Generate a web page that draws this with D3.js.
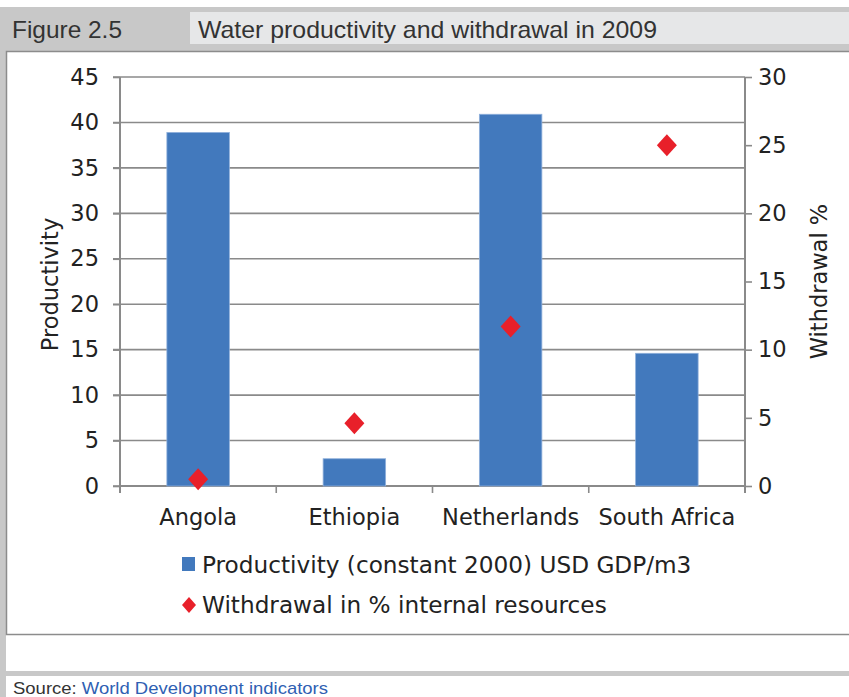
<!DOCTYPE html>
<html>
<head>
<meta charset="utf-8">
<script src="https://cdn.jsdelivr.net/npm/d3@7"></script>
<style>
  html, body { margin: 0; padding: 0; background: #fff; }
  svg { display: block; }
</style>
</head>
<body>
<svg id="chart" width="849" height="697"></svg>
<script>
// Water productivity (bars, left axis) and withdrawal share (diamonds, right axis)
const countries = ["Angola", "Ethiopia", "Netherlands", "South Africa"];
const productivity = [38.9, 3.0, 40.9, 14.6];
const withdrawal = [0.5, 4.6, 11.7, 25.0];
const leftTicks = [0, 5, 10, 15, 20, 25, 30, 35, 40, 45];
const rightTicks = [0, 5, 10, 15, 20, 25, 30];
const legendLabels = ["Productivity (constant 2000) USD GDP/m3", "Withdrawal in % internal resources"];

const svg = d3.select("#chart");
const axisFont = "Verdana, 'DejaVu Sans', sans-serif";
const headFont = "'Liberation Sans Narrow', 'Arial Narrow', 'Liberation Sans', sans-serif";
const gridColor = "#8a8a8a";
const barColor = "#4279bd";
const markColor = "#e8202a";
const fs = 22.5;

// Page frame: grey header strip, title box, white chart panel, footer band
svg.append("rect").attr("x", 0).attr("y", 7).attr("width", 849).attr("height", 44).attr("fill", "#c8c8c8");
svg.append("rect").attr("x", 190).attr("y", 12).attr("width", 659).attr("height", 32).attr("fill", "#e6e7e8");
svg.append("rect").attr("x", 0).attr("y", 7).attr("width", 6).attr("height", 690).attr("fill", "#c8c8c8");
svg.append("rect").attr("x", 0).attr("y", 671).attr("width", 849).attr("height", 5).attr("fill", "#c8c8c8");
svg.append("rect").attr("x", 6.5).attr("y", 51.5).attr("width", 850).attr("height", 583)
  .attr("fill", "#fff").attr("stroke", "#8c8c8c").attr("stroke-width", 1.5);

svg.append("text").attr("x", 12).attr("y", 38).text("Figure 2.5")
  .attr("font-family", headFont).attr("font-size", 24).attr("fill", "#333")
  .attr("textLength", 110).attr("lengthAdjust", "spacingAndGlyphs");
svg.append("text").attr("x", 198).attr("y", 38).text("Water productivity and withdrawal in 2009")
  .attr("font-family", headFont).attr("font-size", 24).attr("fill", "#333")
  .attr("textLength", 459).attr("lengthAdjust", "spacingAndGlyphs");

const src = svg.append("text").attr("x", 13).attr("y", 694)
  .attr("font-family", headFont).attr("font-size", 17)
  .attr("textLength", 315).attr("lengthAdjust", "spacingAndGlyphs");
src.append("tspan").attr("fill", "#333").text("Source: ");
src.append("tspan").attr("fill", "#2f5fb3").text("World Development indicators");

// Plot geometry
const x0 = 120, x1 = 745, yTop = 77, yBot = 486;
const x = d3.scaleBand().domain(countries).range([x0, x1]).paddingInner(0).paddingOuter(0);
const yL = d3.scaleLinear().domain([0, 45]).range([yBot, yTop]);
const yR = d3.scaleLinear().domain([0, 30]).range([yBot, yTop]);

// Horizontal gridlines
svg.append("g").selectAll("line").data(leftTicks).join("line")
  .attr("x1", x0 - 7).attr("x2", x1)
  .attr("y1", d => yL(d)).attr("y2", d => yL(d))
  .attr("stroke", gridColor).attr("stroke-width", 1.6);

// Left axis
const gL = svg.append("g").attr("transform", `translate(${x0},0)`)
  .call(d3.axisLeft(yL).tickValues(leftTicks).tickSize(7).tickPadding(14));
gL.select(".domain").remove();
gL.selectAll(".tick line").attr("stroke", gridColor).attr("stroke-width", 1.6);
gL.selectAll(".tick text").attr("font-family", axisFont).attr("font-size", fs).attr("fill", "#222");
svg.append("line").attr("x1", x0).attr("x2", x0).attr("y1", yTop).attr("y2", yBot + 7)
  .attr("stroke", gridColor).attr("stroke-width", 2);

// Right axis
const gR = svg.append("g").attr("transform", `translate(${x1},0)`)
  .call(d3.axisRight(yR).tickValues(rightTicks).tickSize(7).tickPadding(6));
gR.select(".domain").remove();
gR.selectAll(".tick line").attr("stroke", gridColor).attr("stroke-width", 1.6);
gR.selectAll(".tick text").attr("font-family", axisFont).attr("font-size", fs).attr("fill", "#222");
svg.append("line").attr("x1", x1).attr("x2", x1).attr("y1", yTop).attr("y2", yBot + 7)
  .attr("stroke", gridColor).attr("stroke-width", 2);

// Category axis with ticks on band boundaries
const bounds = countries.map(c => x(c)).concat([x1]);
svg.append("line").attr("x1", x0).attr("x2", x1).attr("y1", yBot).attr("y2", yBot)
  .attr("stroke", gridColor).attr("stroke-width", 2);
svg.append("g").selectAll("line").data(bounds).join("line")
  .attr("x1", d => d).attr("x2", d => d).attr("y1", yBot).attr("y2", yBot + 7)
  .attr("stroke", gridColor).attr("stroke-width", 1.6);
svg.append("g").selectAll("text").data(countries).join("text")
  .attr("x", d => x(d) + x.bandwidth() / 2).attr("y", 525)
  .attr("text-anchor", "middle").attr("font-family", axisFont).attr("font-size", fs).attr("fill", "#222")
  .text(d => d);

// Bars
const barW = x.bandwidth() * 0.4;
svg.append("g").selectAll("rect").data(countries).join("rect")
  .attr("x", d => x(d) + (x.bandwidth() - barW) / 2)
  .attr("width", barW)
  .attr("y", (d, i) => yL(productivity[i]))
  .attr("height", (d, i) => yBot - yL(productivity[i]))
  .attr("fill", barColor).attr("stroke", "#8fb0db").attr("stroke-width", 0.8);

// Withdrawal diamonds
const diamond = (cx, cy, w, h) => `M${cx},${cy - h / 2}L${cx + w / 2},${cy}L${cx},${cy + h / 2}L${cx - w / 2},${cy}Z`;
svg.append("g").selectAll("path").data(countries).join("path")
  .attr("d", (d, i) => diamond(x(d) + x.bandwidth() / 2, yR(withdrawal[i]), 20, 22))
  .attr("fill", markColor);

// Axis titles
svg.append("text").attr("transform", `translate(58,${(yTop + yBot) / 2 + 3}) rotate(-90)`)
  .attr("text-anchor", "middle").attr("font-family", axisFont).attr("font-size", fs).attr("fill", "#222")
  .text("Productivity");
svg.append("text").attr("transform", `translate(827,${(yTop + yBot) / 2}) rotate(-90)`)
  .attr("text-anchor", "middle").attr("font-family", axisFont).attr("font-size", fs).attr("fill", "#222")
  .text("Withdrawal %");

// Legend
const lfs = 23.2;
const lg = svg.append("g");
lg.append("rect").attr("x", 182).attr("y", 557).attr("width", 13).attr("height", 14).attr("fill", barColor);
lg.append("text").attr("x", 202).attr("y", 573).attr("font-family", axisFont).attr("font-size", lfs).attr("fill", "#222")
  .text(legendLabels[0]);
lg.append("path").attr("d", diamond(189, 605, 14, 16)).attr("fill", markColor);
lg.append("text").attr("x", 202).attr("y", 613).attr("font-family", axisFont).attr("font-size", lfs).attr("fill", "#222")
  .text(legendLabels[1]);
</script>
</body>
</html>
